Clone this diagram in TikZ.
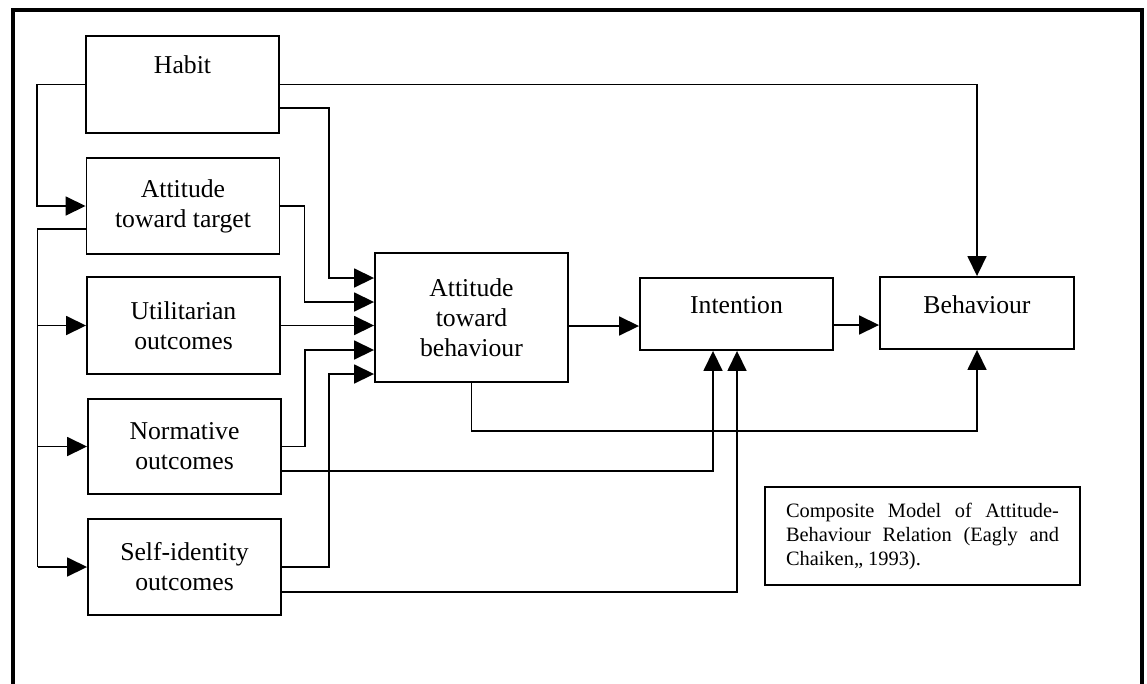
\documentclass[tikz,border=0pt]{standalone}
\usepackage{fontspec}
\setmainfont{Liberation Serif}
\usetikzlibrary{arrows.meta}
\begin{document}
\begin{tikzpicture}[x=1pt,y=-1pt,
  box/.style={draw,line width=1.9pt,minimum width=193pt,inner sep=0pt,align=center,
    font=\fontsize{25.7}{30}\selectfont},
  arr/.style={line width=1.7pt,-{Triangle[length=20pt,width=19pt]}},
  link/.style={line width=1.7pt},
  frameline/.style={line width=3.3pt}]
\useasboundingbox (0,0) rectangle (1147,683);
% outer frame (open at the bottom)
\draw[frameline] (13,690) -- (13,10) -- (1142,10) -- (1142,690);

% antecedent boxes
\node[box,minimum height=97pt,text height=17pt,text depth=40pt] (habit) at (182.5,84.5) {Habit};
\node[box,minimum height=96pt] (target) at (183,206) {Attitude\\toward target};
\node[box,minimum height=97pt] (util) at (183.5,325.5) {Utilitarian\\outcomes};
\node[box,minimum height=95pt] (norm) at (184.5,446.5) {Normative\\outcomes};
\node[box,minimum height=96pt] (self) at (184.5,567) {Self-identity\\outcomes};

% main chain
\node[box,minimum height=129pt] (atb) at (471.5,317.5) {Attitude\\toward\\behaviour};
\node[box,minimum height=72pt,text height=17pt,text depth=19pt] (intent) at (736.5,314) {Intention};
\node[box,minimum width=194pt,minimum height=72pt,text height=17pt,text depth=17pt] (behav) at (977,313) {Behaviour};

% caption
\node[draw,line width=1.8pt,minimum width=315pt,minimum height=98pt,text width=273pt,
  inner xsep=21pt,inner ysep=0pt,align=justify,font=\fontsize{20.4}{24}\selectfont]
  (caption) at (922.5,536)
  {Composite Model of Attitude-\linebreak Behaviour Relation (Eagly and\linebreak Chaiken,, 1993).};

% habit links
\draw[arr] (habit.east) -| (behav.north);
\draw[arr] ([yshift=-23.5pt]habit.east) -- ++(49,0) |- ([yshift=39.5pt]atb.west);
\draw[arr] (habit.west) -- ++(-48,0) |- (target.west);

% attitude toward target feeds the outcome boxes
\coordinate (trunk) at ([xshift=-48pt,yshift=-23pt]target.west);
\draw[link] ([yshift=-23pt]target.west) -- (trunk) -- (trunk |- self.west);
\draw[arr] (trunk |- util.west) -- (util.west);
\draw[arr] (trunk |- norm.west) -- (norm.west);
\draw[arr] (trunk |- self.west) -- (self.west);

% inputs to attitude toward behaviour
\draw[arr] (target.east) -- ++(24,0) |- ([yshift=15.5pt]atb.west);
\draw[arr] (util.east) -- (util.east -| atb.west);
\draw[arr] (norm.east) -- ++(23,0) |- ([yshift=-32.5pt]atb.west);
\draw[arr] (self.east) -- ++(47,0) |- ([yshift=-56.5pt]atb.west);

% inputs to intention
\coordinate (ai) at ([yshift=-8.5pt]atb.east);
\draw[arr] (ai) -- (ai -| intent.west);
\draw[arr] ([yshift=-24.5pt]norm.east) -| ([xshift=-23.5pt]intent.south);
\draw[arr] ([yshift=-25pt]self.east) -| ([xshift=0.5pt]intent.south);

% inputs to behaviour
\coordinate (ib) at ([yshift=-11pt]intent.east);
\draw[arr] (ib) -- (ib -| behav.west);
\draw[arr] (atb.south) -- ++(0,48) -| (behav.south);
\end{tikzpicture}
\end{document}
